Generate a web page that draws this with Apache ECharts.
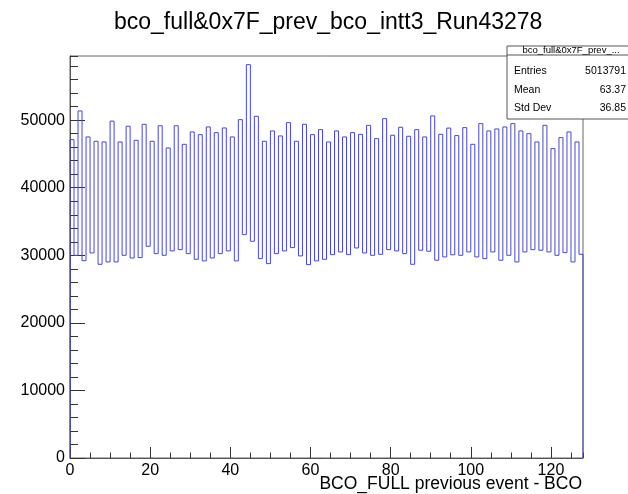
<!DOCTYPE html>
<html>
<head>
<meta charset="utf-8">
<script src="https://cdn.jsdelivr.net/npm/echarts@6/dist/echarts.min.js"></script>
<style>
html,body{margin:0;padding:0;background:#fff;}
#c{width:628px;height:494px;}
</style>
</head>
<body>
<div id="c"></div>
<script>
// ---- data ----
var titleText = "bco_full&0x7F_prev_bco_intt3_Run43278";
var xAxisTitle = "BCO_FULL previous event - BCO";
var binLow = 0;
var binHigh = 128;
var counts = [
  47120, 30000, 51370, 29200, 47520, 30350, 46880, 28670, 46780, 29020,
  49860, 29020, 46780, 30000, 49100, 29600, 47020, 29660, 49390, 31340,
  46880, 30250, 49170, 30000, 45890, 30650, 49170, 30840, 46430, 30250,
  48260, 29410, 47860, 29170, 49000, 29610, 48160, 30250, 48850, 30650,
  47520, 29170, 50080, 33060, 58220, 32080, 50580, 29510, 46880, 28770,
  48410, 30250, 47670, 30650, 49640, 31140, 46880, 29910, 49390, 28620,
  47860, 29170, 48600, 29410, 46780, 30100, 48410, 30500, 47520, 30100,
  48160, 31090, 47910, 30350, 49240, 30000, 47270, 30150, 50230, 30840,
  47770, 30650, 48950, 30250, 47620, 28670, 48600, 30750, 47520, 30600,
  50630, 29270, 47910, 29760, 48830, 30080, 47720, 30000, 48900, 30500,
  46430, 29760, 49490, 29510, 48410, 30500, 48700, 29270, 49000, 30000,
  49490, 29020, 48410, 30500, 48010, 30840, 46780, 30750, 49240, 30500,
  45790, 30000, 47420, 30400, 48260, 29020, 46780, 30150
];
var statsName = "bco_full&0x7F_prev_...";
var statsLabels = ["Entries", "Mean", "Std Dev"];
var statsValues = ["5013791", "63.37", "36.85"];
var yMax = 59500;

// ---- build histogram outline ----
var outline = [[binLow, 0]];
for (var i = 0; i < counts.length; i++) outline.push([binLow + i, counts[i]]);
outline.push([binHigh, counts[counts.length - 1]]);
outline.push([binHigh, 0]);

var FONT = "'Liberation Sans', Arial, Helvetica, sans-serif";
var chart = echarts.init(document.getElementById('c'), null, {renderer: 'canvas'});

var graphics = [
  {type: 'text', x: 582, y: 484, z: 50,
   style: {text: xAxisTitle, fontSize: 17.5, fontFamily: FONT, fill: '#000', align: 'right', verticalAlign: 'middle'}},
  {type: 'rect', shape: {x: 507, y: 46, width: 130, height: 73},
   style: {fill: '#fff', stroke: '#555', lineWidth: 1}, z: 100},
  {type: 'line', shape: {x1: 507, y1: 55, x2: 628, y2: 55},
   style: {stroke: '#555', lineWidth: 1}, z: 101},
  {type: 'text', x: 571, y: 50.5, z: 102,
   style: {text: statsName, fontSize: 9.5, fontFamily: FONT, fill: '#000', align: 'center', verticalAlign: 'middle'}}
];
var rowY = [71, 90, 108.5];
for (var k = 0; k < statsLabels.length; k++) {
  graphics.push({type: 'text', x: 514, y: rowY[k], z: 102,
    style: {text: statsLabels[k], fontSize: 10.5, fontFamily: FONT, fill: '#000', align: 'left', verticalAlign: 'middle'}});
  graphics.push({type: 'text', x: 626, y: rowY[k], z: 102,
    style: {text: statsValues[k], fontSize: 10.5, fontFamily: FONT, fill: '#000', align: 'right', verticalAlign: 'middle'}});
}

function plain(v) { return String(v); }

chart.setOption({
  animation: false,
  backgroundColor: '#fff',
  title: {
    text: titleText, left: 109, top: 6,
    textStyle: {fontSize: 23, fontWeight: 'normal', fontFamily: FONT, color: '#000'}
  },
  grid: {left: 70, right: 45, top: 56, bottom: 36, containLabel: false, outerBoundsMode: 'none',
         show: true, borderColor: '#666', borderWidth: 1, backgroundColor: 'transparent'},
  xAxis: [
    {type: 'value', min: binLow, max: binHigh, interval: 20,
     axisLine: {show: true, onZero: false, lineStyle: {color: '#555'}},
     axisTick: {show: true, inside: true, length: 11, lineStyle: {color: '#333'}},
     axisLabel: {show: true, margin: 5, fontSize: 16, fontFamily: FONT, color: '#000', showMaxLabel: false, formatter: plain},
     splitLine: {show: false}
    },
    {type: 'value', min: binLow, max: binHigh, interval: 5, position: 'bottom',
     axisLine: {show: false},
     axisTick: {show: true, inside: true, length: 5.5, lineStyle: {color: '#333'}},
     axisLabel: {show: false}, splitLine: {show: false}}
  ],
  yAxis: [
    {type: 'value', min: 0, max: yMax, interval: 10000,
     axisLine: {show: true, lineStyle: {color: '#555'}},
     axisTick: {show: true, inside: true, length: 15, lineStyle: {color: '#333'}},
     axisLabel: {show: true, margin: 5, fontSize: 16, fontFamily: FONT, color: '#000', showMaxLabel: false, formatter: plain},
     splitLine: {show: false}},
    {type: 'value', min: 0, max: yMax, interval: 2000, position: 'left',
     axisLine: {show: false},
     axisTick: {show: true, inside: true, length: 8, lineStyle: {color: '#333'}},
     axisLabel: {show: false}, splitLine: {show: false}}
  ],
  series: [{
    type: 'line', step: 'end', data: outline, xAxisIndex: 0, yAxisIndex: 0,
    showSymbol: false, symbol: 'none',
    lineStyle: {color: '#4646d2', width: 1},
    z: 5
  }],
  graphic: graphics
});
</script>
</body>
</html>
